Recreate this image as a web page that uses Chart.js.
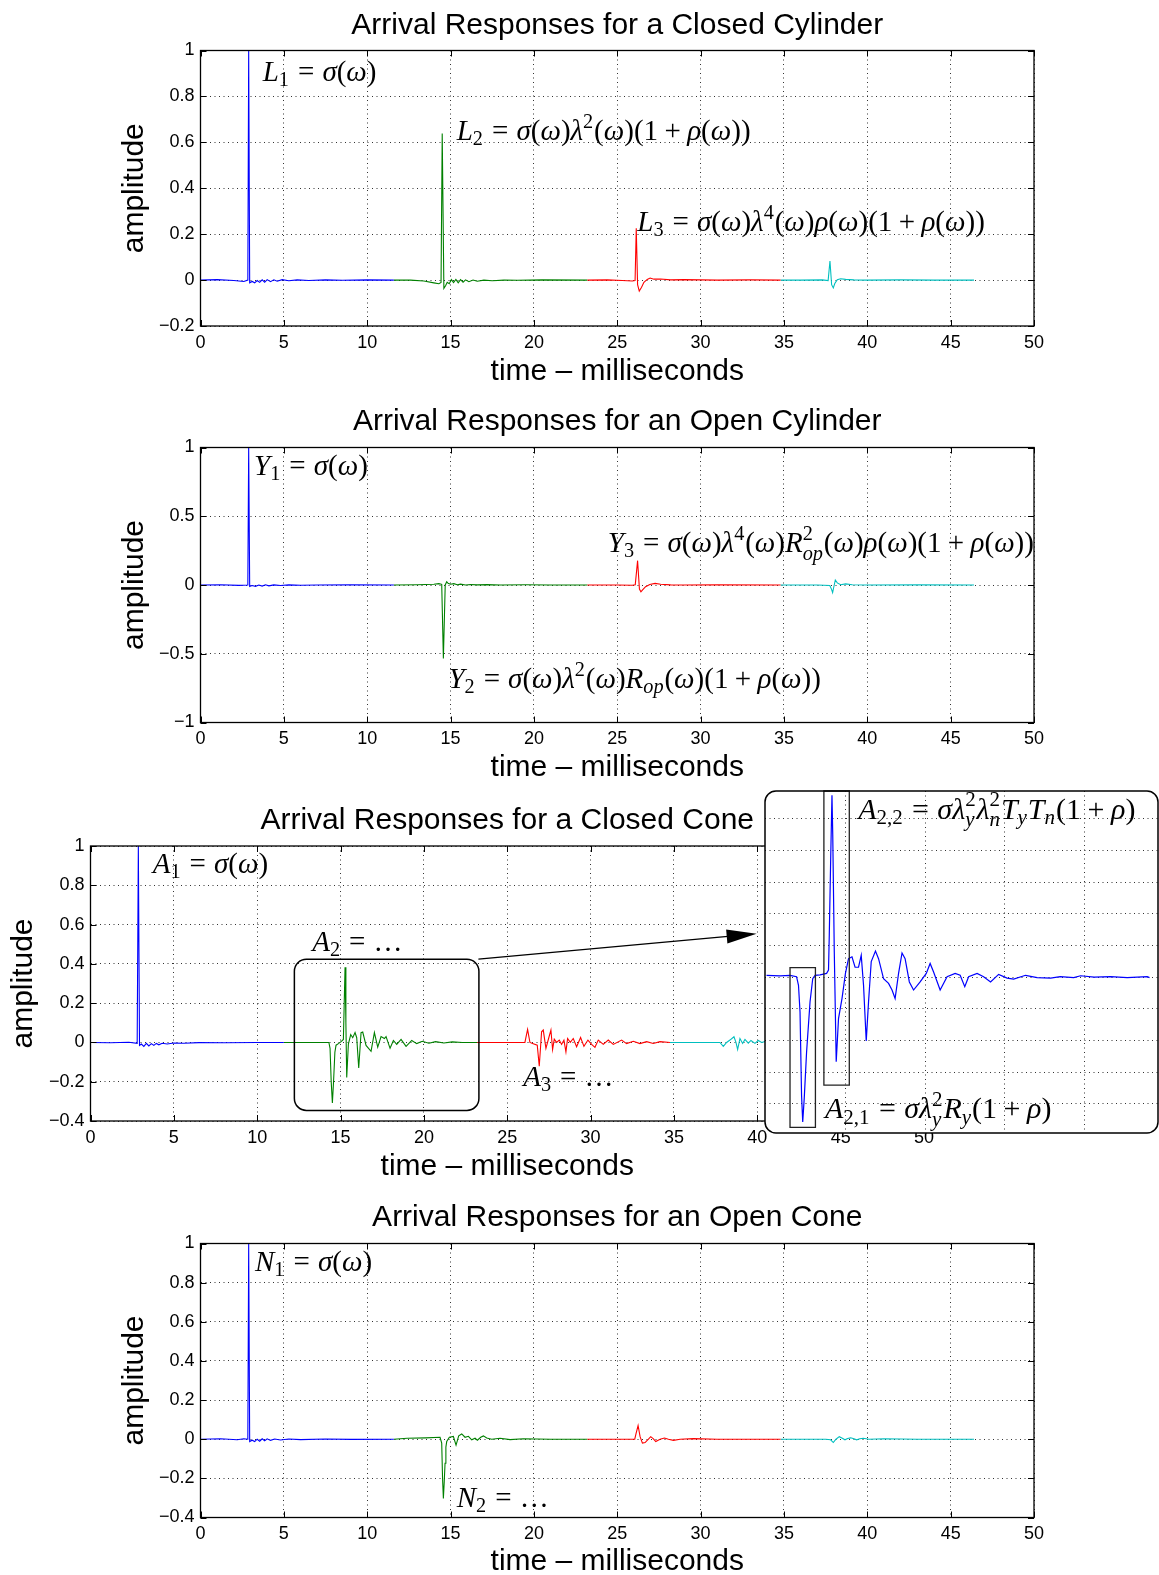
<!DOCTYPE html>
<html>
<head>
<meta charset="utf-8">
<script src="https://cdn.jsdelivr.net/npm/chart.js@4.4.1/dist/chart.umd.min.js"></script>
<style>
html, body { margin: 0; padding: 0; background: #fff; overflow: hidden; }
body { position: relative; width: 1159px; height: 1575px; }
canvas { position: absolute; }
#inset { z-index: 2; }
</style>
</head>
<body>
<canvas id="p1"></canvas>
<canvas id="p2"></canvas>
<canvas id="p3"></canvas>
<canvas id="p4"></canvas>
<canvas id="inset"></canvas>
<script>
// ---- data: [time ms, amplitude] ----
const xTicks = [0, 5, 10, 15, 20, 25, 30, 35, 40, 45, 50];
const yTicksClosedCyl = [-0.2, 0, 0.2, 0.4, 0.6, 0.8, 1];
const yTicksOpenCyl = [-1, -0.5, 0, 0.5, 1];
const yTicksCone = [-0.4, -0.2, 0, 0.2, 0.4, 0.6, 0.8, 1];
const insetXTicks = [15.61, 17.69, 19.76, 21.84];
const insetYTicks = [-0.2667, -0.2, -0.1333, -0.0667, 0, 0.0667, 0.1333, 0.2, 0.2667, 0.3333];

// closed cylinder
const cylClosedBlue = [[0,0],[1.0,0.002],[2.0,-0.002],[2.6,-0.006],[2.84,0],[2.89,1.0],[2.95,-0.012],[3.1,-0.006],[3.25,-0.012],[3.4,-0.002],[3.55,-0.01],[3.7,0.001],[3.85,-0.009],[4.0,0.002],[4.2,-0.007],[4.4,0.001],[4.6,-0.005],[4.9,0.002],[5.3,-0.003],[5.8,0.001],[6.5,-0.002],[7.5,0.001],[8.5,-0.001],[10,0.001],[11.6,0]];
const cylClosedGreen = [[11.6,0],[12.6,0],[13.4,-0.004],[14.0,-0.012],[14.3,-0.016],[14.43,-0.01],[14.5,0.638],[14.6,-0.036],[14.7,-0.025],[14.8,-0.01],[14.92,-0.016],[15.05,0.002],[15.18,-0.011],[15.32,0.003],[15.46,-0.012],[15.6,0.002],[15.75,-0.009],[15.9,0.001],[16.1,-0.007],[16.35,0],[16.6,-0.005],[17.0,0],[17.5,-0.003],[18.2,0],[19.0,-0.001],[20.5,0.001],[23.2,0]];
const cylClosedRed = [[23.2,0],[24.4,0.001],[25.3,-0.002],[25.9,-0.004],[26.07,-0.002],[26.14,0.226],[26.22,-0.02],[26.32,-0.048],[26.45,-0.032],[26.6,-0.01],[26.8,0.003],[26.97,0.009],[27.2,0.004],[27.6,0.005],[28.2,0.001],[29,0.002],[31,0],[33,0.001],[34.8,0]];
const cylClosedCyan = [[34.8,0],[36,0],[37.3,0.001],[37.65,-0.002],[37.76,0.083],[37.86,-0.02],[37.96,-0.034],[38.05,-0.015],[38.2,0.002],[38.4,0.006],[38.7,0.003],[39.2,0.001],[40,0],[42,0.001],[44,0],[46.4,0]];

// open cylinder
const cylOpenBlue = [[0,0],[1.2,0.002],[2.3,-0.003],[2.84,0],[2.89,1.0],[2.95,-0.01],[3.1,-0.004],[3.3,-0.01],[3.5,0],[3.7,-0.008],[3.9,0.002],[4.1,-0.006],[4.4,0.001],[4.8,-0.004],[5.3,0.001],[6,-0.002],[7,0],[9,0.001],[11.6,0]];
const cylOpenGreen = [[11.6,0],[13,0.002],[14.0,0.006],[14.3,0.01],[14.47,0.005],[14.57,-0.534],[14.68,0.0],[14.77,0.024],[14.85,0.012],[15.0,0.006],[15.2,0.01],[15.4,0.002],[15.6,0.006],[15.9,0],[16.2,0.004],[16.6,0.001],[17.2,0.003],[18,0],[19.5,0.002],[21,0],[23.2,0]];
const cylOpenRed = [[23.2,0],[25,0],[25.9,-0.002],[26.08,0.002],[26.22,0.177],[26.33,-0.03],[26.42,-0.049],[26.52,-0.035],[26.7,-0.012],[26.95,0.004],[27.27,0.012],[27.6,0.006],[28.2,0.001],[29,0],[31,0.001],[34.8,0]];
const cylOpenCyan = [[34.8,0],[37,0],[37.75,-0.004],[37.85,-0.03],[37.92,-0.056],[37.98,-0.02],[38.08,0.036],[38.2,0.015],[38.4,0.002],[38.7,0.008],[39.1,0.002],[40,0],[43,0.001],[46.4,0]];

// closed cone
const coneClosedBlue = [[0,0],[1.2,-0.002],[2.3,0.001],[2.8,-0.005],[2.87,1.0],[2.94,-0.015],[3.05,-0.008],[3.2,-0.02],[3.35,-0.005],[3.5,-0.018],[3.65,-0.006],[3.8,-0.015],[3.95,-0.005],[4.1,-0.012],[4.3,-0.004],[4.6,-0.008],[5.0,-0.003],[5.6,-0.004],[6.5,-0.001],[8,-0.002],[10,0],[11.6,0]];
const coneClosedGreen = [[11.6,0],[13.0,0],[14.3,0],[14.37,-0.03],[14.44,-0.2],[14.51,-0.308],[14.58,-0.2],[14.66,-0.05],[14.73,-0.014],[14.87,-0.006],[15.05,0.005],[15.17,0.015],[15.22,0.2],[15.27,0.383],[15.32,0.1],[15.37,-0.179],[15.47,-0.008],[15.61,0.04],[15.73,0.024],[15.87,0.05],[15.97,0.024],[16.09,-0.13],[16.23,0.05],[16.33,0.053],[16.53,-0.015],[16.83,-0.045],[17.03,0.05],[17.23,-0.024],[17.43,0.03],[17.63,0.02],[17.73,0.03],[17.97,-0.03],[18.17,0.01],[18.37,-0.01],[18.63,0.015],[18.93,-0.02],[19.27,0.01],[19.57,-0.006],[19.9,0.006],[20.3,-0.004],[20.7,0.004],[21.2,-0.003],[21.7,0.003],[22.3,0],[23.2,0]];
const coneClosedRed = [[23.17,0],[24.5,0],[26.06,0],[26.22,0.066],[26.36,0],[26.52,-0.005],[26.8,-0.014],[26.92,-0.121],[27.06,0.054],[27.16,0.063],[27.32,-0.03],[27.48,0.02],[27.62,0.063],[27.72,-0.036],[27.82,0.017],[27.96,0],[28.12,0.012],[28.26,-0.01],[28.4,0.012],[28.52,-0.048],[28.62,0.02],[28.78,0],[28.96,0.02],[29.16,-0.022],[29.4,0.025],[29.6,-0.02],[29.84,0.012],[30.06,-0.01],[30.26,-0.025],[30.46,0.012],[30.76,-0.01],[31.06,0.012],[31.36,-0.01],[31.86,0.012],[32.16,-0.006],[32.56,0.006],[32.96,-0.006],[33.36,0.004],[33.76,-0.005],[34.16,0.004],[34.76,0]];
const coneClosedCyan = [[34.76,0],[36.5,0],[37.76,0],[37.96,-0.02],[38.16,0],[38.36,0.012],[38.6,0.029],[38.72,0],[38.82,-0.036],[38.96,0.02],[39.12,-0.005],[39.26,0.015],[39.46,-0.004],[39.62,0.01],[39.86,-0.005],[40.06,0.01],[40.26,0],[40.6,0.008],[41,-0.005],[41.5,0.005],[42.5,-0.003],[44,0.002],[46.4,0]];

// open cone
const coneOpenBlue = [[0,0],[1.2,0.002],[2.2,-0.003],[2.6,0.002],[2.84,0],[2.89,1.0],[2.95,-0.012],[3.1,-0.005],[3.25,-0.012],[3.4,0],[3.55,-0.01],[3.7,0.002],[3.85,-0.008],[4.0,0.002],[4.2,-0.006],[4.45,0.001],[4.8,-0.004],[5.3,0.001],[6,-0.002],[7.5,0.001],[9,-0.001],[11.6,0]];
const coneOpenGreen = [[11.6,0],[12.4,0.005],[13.5,0.007],[14.37,0.01],[14.47,-0.02],[14.52,-0.2],[14.57,-0.303],[14.62,-0.22],[14.67,-0.123],[14.72,-0.04],[14.77,-0.012],[14.93,0.01],[15.17,0.014],[15.33,-0.03],[15.49,0.017],[15.67,0.027],[15.87,0.01],[16.07,0.015],[16.27,-0.003],[16.47,0.005],[16.61,-0.005],[16.81,0.01],[16.97,0.017],[17.17,0.006],[17.47,0],[17.97,0.005],[18.57,-0.002],[19.37,0.002],[21,0],[23.2,0]];
const coneOpenRed = [[23.2,0],[25.5,0],[26.05,0],[26.13,0.03],[26.25,0.07],[26.37,0.013],[26.51,-0.02],[26.67,-0.017],[26.87,0],[27.01,0.013],[27.17,0.002],[27.31,-0.012],[27.57,0],[27.83,0.006],[28.07,0],[28.37,-0.006],[28.77,0],[29.57,0.003],[31,0],[34.8,0]];
const coneOpenCyan = [[34.8,0],[37.5,0],[37.8,-0.003],[37.96,-0.017],[38.12,0],[38.32,0.013],[38.5,0.005],[38.66,-0.003],[38.82,0.004],[39.0,0.007],[39.2,0.002],[39.36,-0.003],[39.55,0.002],[39.76,0.005],[40.1,0],[41,0.002],[43,0],[46.4,0]];

// zoomed view of A2 (closed cone, second arrival)
const insetA2 = [[13.57,0.004],[13.92,0.003],[14.18,0.004],[14.35,0.001],[14.4,-0.017],[14.44,-0.073],[14.48,-0.249],[14.51,-0.305],[14.55,-0.254],[14.61,-0.158],[14.7,-0.052],[14.77,-0.003],[14.83,0.004],[14.96,0.005],[15.13,0.008],[15.18,0.015],[15.2,0.089],[15.24,0.264],[15.27,0.383],[15.29,0.3],[15.33,0.053],[15.38,-0.178],[15.44,-0.087],[15.53,-0.045],[15.62,0.008],[15.7,0.039],[15.79,0.043],[15.87,0.021],[15.96,0.021],[16.03,0.046],[16.09,-0.017],[16.16,-0.134],[16.22,-0.052],[16.29,0.033],[16.4,0.055],[16.48,0.039],[16.61,-0.003],[16.74,-0.013],[16.83,-0.027],[16.91,-0.045],[17.0,0.008],[17.09,0.051],[17.17,0.039],[17.28,-0.01],[17.39,-0.027],[17.56,-0.01],[17.72,0.008],[17.82,0.029],[17.91,0.011],[18.08,-0.027],[18.26,0.001],[18.47,0.008],[18.6,0.004],[18.72,-0.02],[18.82,0.001],[19.04,0.008],[19.21,0.001],[19.39,-0.01],[19.6,0.006],[19.82,-0.002],[19.99,-0.004],[20.3,0.004],[20.6,-0.001],[20.95,-0.002],[21.2,0.001],[21.55,-0.001],[21.73,0.003],[22.08,0],[22.51,0.001],[22.94,-0.001],[23.46,0.001],[23.52,-0.001]];

const seriesColors = ['#0000ff', '#008000', '#ff0000', '#00bfbf'];

// ---- drawing helpers ----
const SANS = '"Liberation Sans", Arial, sans-serif';
const MATH = '"Liberation Serif", "DejaVu Serif", serif';
const FS = 30;      // titles / axis labels
const FS_TICK = 18;
const FS_MATH = 29;
const W = 1159;

function fmtTick(v) {
  const s = String(Math.round(Math.abs(v) * 100) / 100);
  return v < 0 ? '\u2212' + s : s;
}

// tiny TeX-ish parser: _x / _{xy} subscripts, ^x superscripts, '=' and '+' spacing
function parseMath(src) {
  const out = [];
  let i = 0;
  const grab = () => {
    if (src[i] === '{') { const j = src.indexOf('}', i); const g = src.slice(i + 1, j); i = j + 1; return g; }
    return src[i++];
  };
  while (i < src.length) {
    const c = src[i];
    if (c === ' ') { i++; continue; }
    if (c === '_' || c === '^') {
      i++;
      const g = grab();
      const last = out[out.length - 1];
      if (c === '_' && last && last.sup !== undefined && last.sub === undefined) last.sub = g;
      else if (c === '^') out.push({ sup: g });
      else out.push({ sub: g });
      continue;
    }
    if (src.startsWith('...', i)) { out.push({ t: '\u2026' }); i += 3; continue; }
    if (c === '=') { out.push({ gap: 0.28 }, { t: '=' }, { gap: 0.28 }); i++; continue; }
    if (c === '+') { out.push({ gap: 0.22 }, { t: '+' }, { gap: 0.22 }); i++; continue; }
    out.push({ t: c });
    i++;
  }
  return out;
}

function drawMath(ctx, x0, y0, src, size) {
  ctx.fillStyle = '#000';
  ctx.textBaseline = 'alphabetic';
  ctx.textAlign = 'left';
  const put = (str, px, py, sz) => {
    let w = 0;
    for (const ch of str) {
      const it = /[A-Za-z\u03b1-\u03c9]/.test(ch);
      ctx.font = (it ? 'italic ' : '') + sz + 'px ' + MATH;
      ctx.fillText(ch, px + w, py);
      w += ctx.measureText(ch).width;
    }
    return w;
  };
  let cx = x0;
  for (const t of parseMath(src)) {
    if (t.gap) { cx += t.gap * size; continue; }
    if (t.t !== undefined) { cx += put(t.t, cx, y0, size); continue; }
    const s = size * 0.7;
    let w = 0;
    if (t.sup !== undefined) w = put(t.sup, cx, y0 - size * 0.42, s);
    if (t.sub !== undefined) w = Math.max(w, put(t.sub, cx, y0 + size * (t.sup !== undefined ? 0.26 : 0.18), s));
    cx += w + size * 0.03;
  }
}

function roundRectPath(ctx, x, y, w, h, r) {
  ctx.beginPath();
  ctx.moveTo(x + r, y);
  ctx.arcTo(x + w, y, x + w, y + h, r);
  ctx.arcTo(x + w, y + h, x, y + h, r);
  ctx.arcTo(x, y + h, x, y, r);
  ctx.arcTo(x, y, x + w, y, r);
  ctx.closePath();
}

// MATLAB-style box with inward ticks on all sides
const framePlugin = {
  id: 'frame',
  afterDatasetsDraw(chart) {
    const { ctx, chartArea: a, scales: { x, y } } = chart;
    ctx.save();
    ctx.strokeStyle = '#000';
    ctx.lineWidth = 1;
    ctx.beginPath();
    for (const t of x.ticks) {
      const px = Math.round(x.getPixelForValue(t.value)) + 0.5;
      ctx.moveTo(px, a.bottom); ctx.lineTo(px, a.bottom - 6);
      ctx.moveTo(px, a.top); ctx.lineTo(px, a.top + 6);
    }
    for (const t of y.ticks) {
      const py = Math.round(y.getPixelForValue(t.value)) + 0.5;
      ctx.moveTo(a.left, py); ctx.lineTo(a.left + 6, py);
      ctx.moveTo(a.right, py); ctx.lineTo(a.right - 6, py);
    }
    ctx.stroke();
    ctx.lineWidth = 1.3;
    ctx.strokeRect(a.left, a.top, a.right - a.left, a.bottom - a.top);
    ctx.restore();
  }
};

// text, boxes and arrows placed in data coordinates
const notesPlugin = {
  id: 'notes',
  afterDatasetsDraw(chart, args, o) {
    const { ctx, scales: { x, y } } = chart;
    ctx.save();
    for (const b of (o.boxes || [])) {
      const x0 = x.getPixelForValue(b.x0), x1 = x.getPixelForValue(b.x1);
      const y0 = y.getPixelForValue(b.y0), y1 = y.getPixelForValue(b.y1);
      ctx.strokeStyle = b.color || '#000';
      ctx.lineWidth = b.lw || 1.5;
      roundRectPath(ctx, x0, y0, x1 - x0, y1 - y0, b.r || 0);
      ctx.stroke();
    }
    for (const ar of (o.arrows || [])) {
      const sx = x.getPixelForValue(ar.from[0]), sy = y.getPixelForValue(ar.from[1]);
      const tx = x.getPixelForValue(ar.to[0]), ty = y.getPixelForValue(ar.to[1]);
      const L = Math.hypot(tx - sx, ty - sy), ux = (tx - sx) / L, uy = (ty - sy) / L;
      const hl = 30, hw = 7;
      const bx = tx - ux * hl, by = ty - uy * hl;
      ctx.strokeStyle = '#000'; ctx.fillStyle = '#000'; ctx.lineWidth = 1.4;
      ctx.beginPath(); ctx.moveTo(sx, sy); ctx.lineTo(bx + ux * 4, by + uy * 4); ctx.stroke();
      ctx.beginPath();
      ctx.moveTo(tx, ty);
      ctx.lineTo(bx - uy * hw, by + ux * hw);
      ctx.lineTo(bx + uy * hw, by - ux * hw);
      ctx.closePath(); ctx.fill();
    }
    for (const n of (o.items || [])) {
      drawMath(ctx, x.getPixelForValue(n.x), y.getPixelForValue(n.y), n.text, n.size || FS_MATH);
    }
    ctx.restore();
  }
};

const gridStyle = { color: 'rgba(0,0,0,0.8)', lineWidth: 1, drawTicks: false };
const gridBorder = { display: false, dash: [1, 3.5] };

function makePanel(p) {
  const canvas = document.getElementById(p.id);
  canvas.width = W; canvas.height = p.h;
  canvas.style.left = '0px'; canvas.style.top = p.top + 'px';
  const lh = FS * 1.2;
  const tTop = p.titleY - p.top - lh / 2;
  return new Chart(canvas, {
    type: 'line',
    data: {
      datasets: p.series.map((s, i) => ({
        data: s.map(q => ({ x: q[0], y: q[1] })),
        borderColor: seriesColors[i],
        borderWidth: 1.1,
        pointRadius: 0,
        tension: 0,
        fill: false
      }))
    },
    options: {
      responsive: false,
      animation: false,
      devicePixelRatio: 1,
      layout: { padding: { left: 0, right: W - p.right, top: 0, bottom: 0 } },
      plugins: {
        legend: { display: false },
        tooltip: { enabled: false },
        title: {
          display: true, text: p.title, fullSize: false, color: '#000',
          font: { family: SANS, size: FS, weight: 'normal' },
          padding: { top: tTop, bottom: p.chartTop - p.top - tTop - lh }
        },
        notes: { items: p.notes, boxes: p.boxes || [], arrows: p.arrows || [] }
      },
      scales: {
        x: {
          type: 'linear', min: 0, max: 50,
          afterBuildTicks: s => { s.ticks = xTicks.map(v => ({ value: v })); },
          afterFit: s => { s.height = p.h - (p.chartBottom - p.top); },
          grid: gridStyle, border: gridBorder,
          ticks: { color: '#000', font: { family: SANS, size: FS_TICK }, padding: 6, autoSkip: false, maxRotation: 0, callback: v => fmtTick(v) },
          title: {
            display: true, text: 'time \u2013 milliseconds', color: '#000',
            font: { family: SANS, size: FS, weight: 'normal' },
            padding: { top: 0, bottom: p.h - (p.xLabelY - p.top) - lh / 2 }
          }
        },
        y: {
          type: 'linear', min: p.yTicks[0], max: p.yTicks[p.yTicks.length - 1],
          afterBuildTicks: s => { s.ticks = p.yTicks.map(v => ({ value: v })); },
          afterFit: s => { s.width = p.left; },
          grid: gridStyle, border: gridBorder,
          ticks: { color: '#000', font: { family: SANS, size: FS_TICK }, padding: 6, autoSkip: false, callback: v => fmtTick(v) },
          title: {
            display: true, text: 'amplitude', color: '#000',
            font: { family: SANS, size: FS, weight: 'normal' },
            padding: { top: p.yLabelX - lh / 2, bottom: 0 }
          }
        }
      }
    },
    plugins: [framePlugin, notesPlugin]
  });
}

makePanel({
  id: 'p1', top: 0, h: 395, left: 200.5, right: 1034, chartTop: 50.5, chartBottom: 326,
  titleY: 26, xLabelY: 371.5, yLabelX: 135, yTicks: yTicksClosedCyl,
  title: 'Arrival Responses for a Closed Cylinder',
  series: [cylClosedBlue, cylClosedGreen, cylClosedRed, cylClosedCyan],
  notes: [
    { x: 3.73, y: 0.866, text: 'L_1 = σ(ω)' },
    { x: 15.37, y: 0.611, text: 'L_2 = σ(ω)λ^2(ω)(1 + ρ(ω))' },
    { x: 26.2, y: 0.214, text: 'L_3 = σ(ω)λ^4(ω)ρ(ω)(1 + ρ(ω))' }
  ]
});

makePanel({
  id: 'p2', top: 395, h: 395, left: 200.5, right: 1034, chartTop: 447.5, chartBottom: 722.5,
  titleY: 421.7, xLabelY: 768.2, yLabelX: 135, yTicks: yTicksOpenCyl,
  title: 'Arrival Responses for an Open Cylinder',
  series: [cylOpenBlue, cylOpenGreen, cylOpenRed, cylOpenCyan],
  notes: [
    { x: 3.21, y: 0.80, text: 'Y_1 = σ(ω)' },
    { x: 14.87, y: -0.75, text: 'Y_2 = σ(ω)λ^2(ω)R_{op}(ω)(1 + ρ(ω))' },
    { x: 24.43, y: 0.238, text: 'Y_3 = σ(ω)λ^4(ω)R^2_{op}(ω)ρ(ω)(1 + ρ(ω))' }
  ]
});

makePanel({
  id: 'p3', top: 790, h: 395, left: 90.5, right: 924, chartTop: 846, chartBottom: 1121,
  titleY: 820.4, xLabelY: 1166.9, yLabelX: 23.5, yTicks: yTicksCone,
  title: 'Arrival Responses for a Closed Cone',
  series: [coneClosedBlue, coneClosedGreen, coneClosedRed, coneClosedCyan],
  notes: [
    { x: 3.73, y: 0.863, text: 'A_1 = σ(ω)' },
    { x: 13.3, y: 0.468, text: 'A_2 = ...' },
    { x: 25.96, y: -0.223, text: 'A_3 = ...' }
  ],
  boxes: [{ x0: 12.23, x1: 23.3, y0: 0.424, y1: -0.346, r: 12, lw: 1.5 }],
  arrows: [{ from: [23.27, 0.424], to: [39.96, 0.553] }]
});

makePanel({
  id: 'p4', top: 1185, h: 395, left: 200.5, right: 1034, chartTop: 1243.5, chartBottom: 1517.5,
  titleY: 1218, xLabelY: 1561.5, yLabelX: 135, yTicks: yTicksCone,
  title: 'Arrival Responses for an Open Cone',
  series: [coneOpenBlue, coneOpenGreen, coneOpenRed, coneOpenCyan],
  notes: [
    { x: 3.27, y: 0.86, text: 'N_1 = σ(ω)' },
    { x: 15.37, y: -0.346, text: 'N_2 = ...' }
  ]
});

// ---- inset: magnified A2 ----
const insetBg = {
  id: 'insetBg',
  beforeDraw(chart) {
    const { ctx, chartArea: a } = chart;
    ctx.save();
    roundRectPath(ctx, a.left, a.top, a.right - a.left, a.bottom - a.top, 11);
    ctx.fillStyle = '#fff';
    ctx.fill();
    ctx.restore();
  },
  afterDraw(chart) {
    const { ctx, chartArea: a } = chart;
    ctx.save();
    roundRectPath(ctx, a.left, a.top, a.right - a.left, a.bottom - a.top, 11);
    ctx.strokeStyle = '#000';
    ctx.lineWidth = 1.5;
    ctx.stroke();
    ctx.restore();
  }
};

(function () {
  const c = document.getElementById('inset');
  c.width = 399; c.height = 350;
  c.style.left = '760px'; c.style.top = '786px';
  new Chart(c, {
    type: 'line',
    data: {
      datasets: [{
        data: insetA2.map(q => ({ x: q[0], y: q[1] })),
        borderColor: '#0000ff', borderWidth: 1.2, pointRadius: 0, tension: 0, fill: false
      }]
    },
    options: {
      responsive: false, animation: false, devicePixelRatio: 1,
      layout: { padding: { left: 5, right: 1, top: 5, bottom: 3 } },
      plugins: {
        legend: { display: false }, tooltip: { enabled: false },
        notes: {
          items: [
            { x: 15.95, y: 0.334, text: 'A_{2,2} = σλ^2_yλ^2_nT_yT_n(1 + ρ)', size: 30 },
            { x: 15.09, y: -0.297, text: 'A_{2,1} = σλ^2_yR_y(1 + ρ)', size: 30 }
          ],
          boxes: [
            { x0: 14.18, x1: 14.84, y0: 0.02, y1: -0.316, color: '#222', lw: 1.3 },
            { x0: 15.06, x1: 15.72, y0: 0.392, y1: -0.227, color: '#222', lw: 1.3 }
          ]
        }
      },
      scales: {
        x: {
          type: 'linear', min: 13.53, max: 23.74,
          afterBuildTicks: s => { s.ticks = insetXTicks.map(v => ({ value: v })); },
          afterFit: s => { s.height = 0; },
          ticks: { display: false }, grid: gridStyle, border: gridBorder
        },
        y: {
          type: 'linear', min: -0.328, max: 0.392,
          afterBuildTicks: s => { s.ticks = insetYTicks.map(v => ({ value: v })); },
          afterFit: s => { s.width = 0; },
          ticks: { display: false }, grid: gridStyle, border: gridBorder
        }
      }
    },
    plugins: [insetBg, notesPlugin]
  });
})();
</script>
</body>
</html>
